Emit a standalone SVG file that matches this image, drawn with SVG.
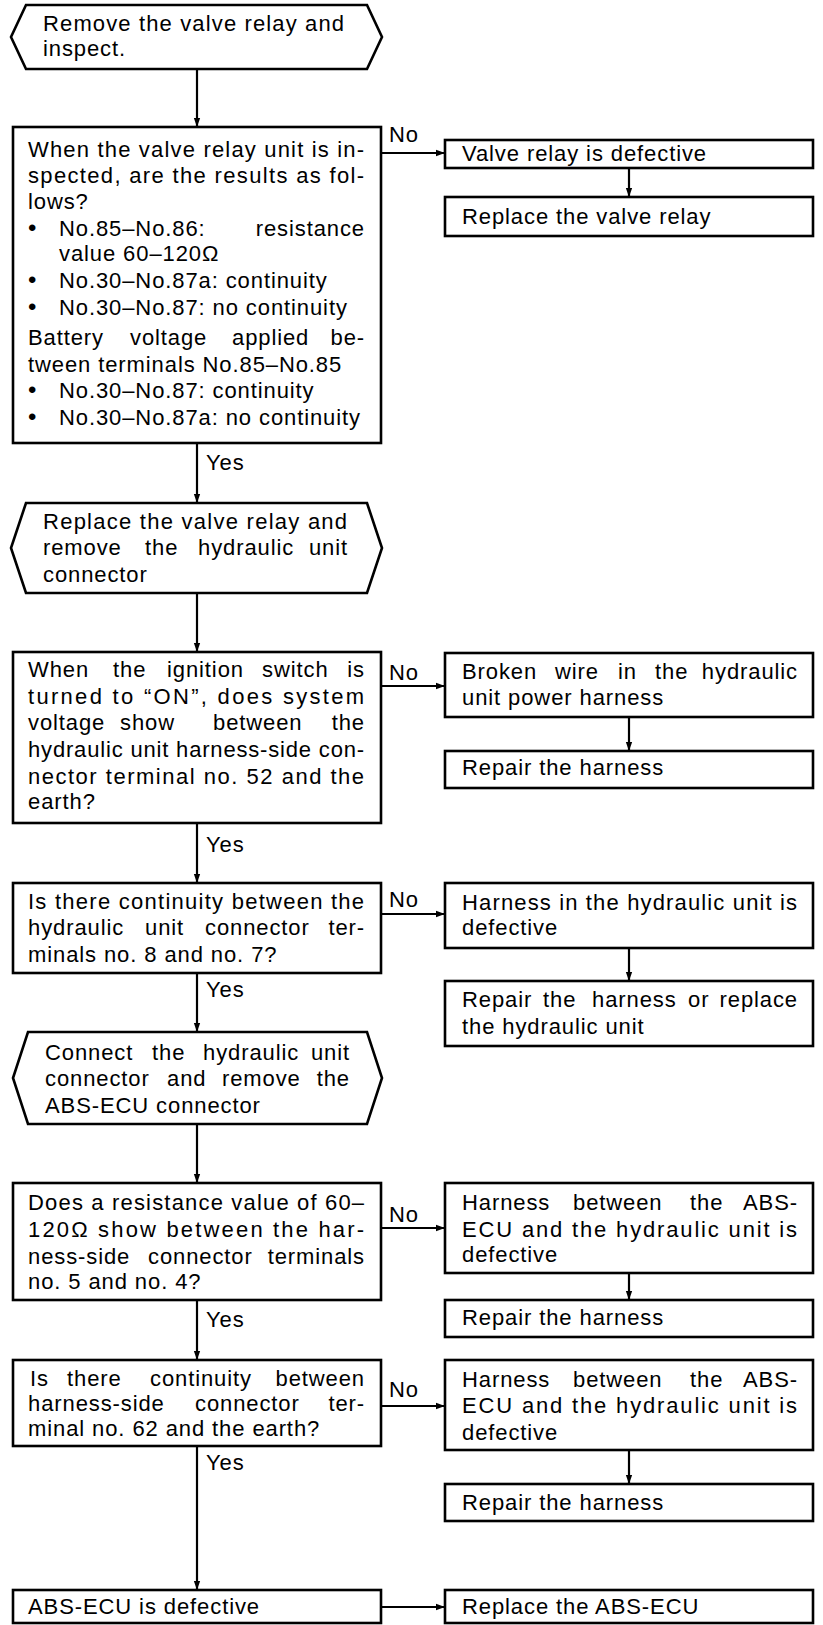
<svg xmlns="http://www.w3.org/2000/svg" width="823" height="1625" viewBox="0 0 823 1625">
<style>
.box{fill:#fff;stroke:#000;stroke-width:2.6}
.t{font-family:"Liberation Sans",Arial,sans-serif;font-size:22px;letter-spacing:0.9px;fill:#000}
.e{text-anchor:end}
.b{font-size:24px}
.c{stroke:#000;stroke-width:2.2;fill:none}
</style>
<defs>
<marker id="ah" viewBox="0 0 10 10" refX="10" refY="5" markerWidth="9" markerHeight="9" markerUnits="userSpaceOnUse" orient="auto"><path d="M0,1.5 L10,5 L0,8.5 z" fill="#000"/></marker>
</defs>
<rect width="823" height="1625" fill="#fff"/>

<g id="connectors">
<path class="c" d="M197,69 V127" marker-end="url(#ah)"/>
<path class="c" d="M197,443 V503" marker-end="url(#ah)"/>
<path class="c" d="M197,593 V652" marker-end="url(#ah)"/>
<path class="c" d="M197,823 V883" marker-end="url(#ah)"/>
<path class="c" d="M197,973 V1032" marker-end="url(#ah)"/>
<path class="c" d="M197,1124 V1183" marker-end="url(#ah)"/>
<path class="c" d="M197,1300 V1360" marker-end="url(#ah)"/>
<path class="c" d="M197,1446 V1590" marker-end="url(#ah)"/>
<path class="c" d="M381,153 H445" marker-end="url(#ah)"/>
<path class="c" d="M381,686 H445" marker-end="url(#ah)"/>
<path class="c" d="M381,914 H445" marker-end="url(#ah)"/>
<path class="c" d="M381,1228 H445" marker-end="url(#ah)"/>
<path class="c" d="M381,1406 H445" marker-end="url(#ah)"/>
<path class="c" d="M381,1607 H445" marker-end="url(#ah)"/>
<path class="c" d="M629,168 V197" marker-end="url(#ah)"/>
<path class="c" d="M629,717 V751" marker-end="url(#ah)"/>
<path class="c" d="M629,948 V981" marker-end="url(#ah)"/>
<path class="c" d="M629,1273 V1300" marker-end="url(#ah)"/>
<path class="c" d="M629,1450 V1484" marker-end="url(#ah)"/>
<text class="t" x="389" y="142">No</text>
<text class="t" x="206" y="470">Yes</text>
<text class="t" x="389" y="680">No</text>
<text class="t" x="206" y="852">Yes</text>
<text class="t" x="389" y="907">No</text>
<text class="t" x="206" y="997">Yes</text>
<text class="t" x="389" y="1222">No</text>
<text class="t" x="206" y="1327">Yes</text>
<text class="t" x="389" y="1397">No</text>
<text class="t" x="206" y="1470">Yes</text>
</g>

<g id="n1">
<polygon class="box" points="26,5 367,5 382,37 367,69 26,69 11,37"/>
<text class="t" x="43" y="31" textLength="302" lengthAdjust="spacing">Remove the valve relay and</text>
<text class="t" x="43" y="56">inspect.</text>
</g>

<g id="n2">
<rect class="box" x="13" y="127" width="368" height="316"/>
<text class="t" x="28" y="157" textLength="337" lengthAdjust="spacing">When the valve relay unit is in-</text>
<text class="t" x="28" y="183" textLength="337" lengthAdjust="spacing">spected, are the results as fol-</text>
<text class="t" x="28" y="209">lows?</text>
<text class="t b" x="28" y="236">•</text>
<text class="t" x="59" y="236">No.85–No.86:</text>
<text class="t e" x="365" y="236">resistance</text>
<text class="t" x="59" y="261">value 60–120Ω</text>
<text class="t b" x="28" y="288">•</text>
<text class="t" x="59" y="288">No.30–No.87a: continuity</text>
<text class="t b" x="28" y="315">•</text>
<text class="t" x="59" y="315">No.30–No.87: no continuity</text>
<text class="t" y="345"><tspan x="28">Battery</tspan><tspan x="130">voltage</tspan><tspan x="232">applied</tspan></text>
<text class="t e" x="365" y="345">be-</text>
<text class="t" x="28" y="372">tween terminals No.85–No.85</text>
<text class="t b" x="28" y="398">•</text>
<text class="t" x="59" y="398">No.30–No.87: continuity</text>
<text class="t b" x="28" y="425">•</text>
<text class="t" x="59" y="425">No.30–No.87a: no continuity</text>
</g>

<g id="n3">
<rect class="box" x="445" y="140" width="368" height="28"/>
<text class="t" x="462" y="161">Valve relay is defective</text>
</g>

<g id="n4">
<rect class="box" x="445" y="197" width="368" height="39"/>
<text class="t" x="462" y="224">Replace the valve relay</text>
</g>

<g id="n5">
<polygon class="box" points="26,503 367,503 382,548 367,593 26,593 11,548"/>
<text class="t" x="43" y="529" textLength="305" lengthAdjust="spacing">Replace the valve relay and</text>
<text class="t" y="555"><tspan x="43">remove</tspan><tspan x="145">the</tspan><tspan x="198">hydraulic</tspan></text>
<text class="t e" x="348" y="555">unit</text>
<text class="t" x="43" y="582">connector</text>
</g>

<g id="n6">
<rect class="box" x="13" y="652" width="368" height="171"/>
<text class="t" y="677"><tspan x="28">When</tspan><tspan x="113">the</tspan><tspan x="167">ignition</tspan><tspan x="262">switch</tspan></text>
<text class="t e" x="365" y="677">is</text>
<text class="t" x="28" y="704" textLength="337" lengthAdjust="spacing">turned to “ON”, does system</text>
<text class="t" y="730"><tspan x="28">voltage</tspan><tspan x="120">show</tspan><tspan x="213">between</tspan></text>
<text class="t e" x="365" y="730">the</text>
<text class="t" x="28" y="757" textLength="337" lengthAdjust="spacing">hydraulic unit harness-side con-</text>
<text class="t" x="28" y="784" textLength="337" lengthAdjust="spacing">nector terminal no. 52 and the</text>
<text class="t" x="28" y="809">earth?</text>
</g>

<g id="n7">
<rect class="box" x="445" y="653" width="368" height="64"/>
<text class="t" y="679"><tspan x="462">Broken</tspan><tspan x="555">wire</tspan><tspan x="618">in</tspan><tspan x="655">the</tspan></text>
<text class="t e" x="798" y="679">hydraulic</text>
<text class="t" x="462" y="705">unit power harness</text>
</g>

<g id="n8">
<rect class="box" x="445" y="751" width="368" height="37"/>
<text class="t" x="462" y="775">Repair the harness</text>
</g>

<g id="n9">
<rect class="box" x="13" y="883" width="368" height="90"/>
<text class="t" x="28" y="909" textLength="337" lengthAdjust="spacing">Is there continuity between the</text>
<text class="t" y="935"><tspan x="28">hydraulic</tspan><tspan x="145">unit</tspan><tspan x="205">connector</tspan></text>
<text class="t e" x="365" y="935">ter-</text>
<text class="t" x="28" y="962">minals no. 8 and no. 7?</text>
</g>

<g id="n10">
<rect class="box" x="445" y="883" width="368" height="65"/>
<text class="t" x="462" y="910" textLength="336" lengthAdjust="spacing">Harness in the hydraulic unit is</text>
<text class="t" x="462" y="935">defective</text>
</g>

<g id="n11">
<rect class="box" x="445" y="981" width="368" height="65"/>
<text class="t" y="1007"><tspan x="462">Repair</tspan><tspan x="543">the</tspan><tspan x="592">harness</tspan><tspan x="688">or</tspan></text>
<text class="t e" x="798" y="1007">replace</text>
<text class="t" x="462" y="1034">the hydraulic unit</text>
</g>

<g id="n12">
<polygon class="box" points="28,1032 367,1032 382,1078 367,1124 28,1124 13,1078"/>
<text class="t" y="1060"><tspan x="45">Connect</tspan><tspan x="152">the</tspan><tspan x="203">hydraulic</tspan></text>
<text class="t e" x="350" y="1060">unit</text>
<text class="t" y="1086"><tspan x="45">connector</tspan><tspan x="167">and</tspan><tspan x="222">remove</tspan></text>
<text class="t e" x="350" y="1086">the</text>
<text class="t" x="45" y="1113">ABS-ECU connector</text>
</g>

<g id="n13">
<rect class="box" x="13" y="1183" width="368" height="117"/>
<text class="t" x="28" y="1210" textLength="337" lengthAdjust="spacing">Does a resistance value of 60–</text>
<text class="t" x="28" y="1237" textLength="337" lengthAdjust="spacing">120Ω show between the har-</text>
<text class="t" y="1264"><tspan x="28">ness-side</tspan><tspan x="148">connector</tspan></text>
<text class="t e" x="365" y="1264">terminals</text>
<text class="t" x="28" y="1289">no. 5 and no. 4?</text>
</g>

<g id="n14">
<rect class="box" x="445" y="1183" width="368" height="90"/>
<text class="t" y="1210"><tspan x="462">Harness</tspan><tspan x="573">between</tspan><tspan x="690">the</tspan></text>
<text class="t e" x="798" y="1210">ABS-</text>
<text class="t" x="462" y="1237" textLength="336" lengthAdjust="spacing">ECU and the hydraulic unit is</text>
<text class="t" x="462" y="1262">defective</text>
</g>

<g id="n15">
<rect class="box" x="445" y="1300" width="368" height="37"/>
<text class="t" x="462" y="1325">Repair the harness</text>
</g>

<g id="n16">
<rect class="box" x="13" y="1360" width="368" height="86"/>
<text class="t" y="1386"><tspan x="30">Is</tspan><tspan x="67">there</tspan><tspan x="150">continuity</tspan></text>
<text class="t e" x="365" y="1386">between</text>
<text class="t" y="1411"><tspan x="28">harness-side</tspan><tspan x="195">connector</tspan></text>
<text class="t e" x="365" y="1411">ter-</text>
<text class="t" x="28" y="1436">minal no. 62 and the earth?</text>
</g>

<g id="n17">
<rect class="box" x="445" y="1360" width="368" height="90"/>
<text class="t" y="1387"><tspan x="462">Harness</tspan><tspan x="573">between</tspan><tspan x="690">the</tspan></text>
<text class="t e" x="798" y="1387">ABS-</text>
<text class="t" x="462" y="1413" textLength="336" lengthAdjust="spacing">ECU and the hydraulic unit is</text>
<text class="t" x="462" y="1440">defective</text>
</g>

<g id="n18">
<rect class="box" x="445" y="1484" width="368" height="37"/>
<text class="t" x="462" y="1510">Repair the harness</text>
</g>

<g id="n19">
<rect class="box" x="13" y="1590" width="368" height="33"/>
<text class="t" x="28" y="1614">ABS-ECU is defective</text>
</g>

<g id="n20">
<rect class="box" x="445" y="1590" width="368" height="33"/>
<text class="t" x="462" y="1614">Replace the ABS-ECU</text>
</g>
</svg>
